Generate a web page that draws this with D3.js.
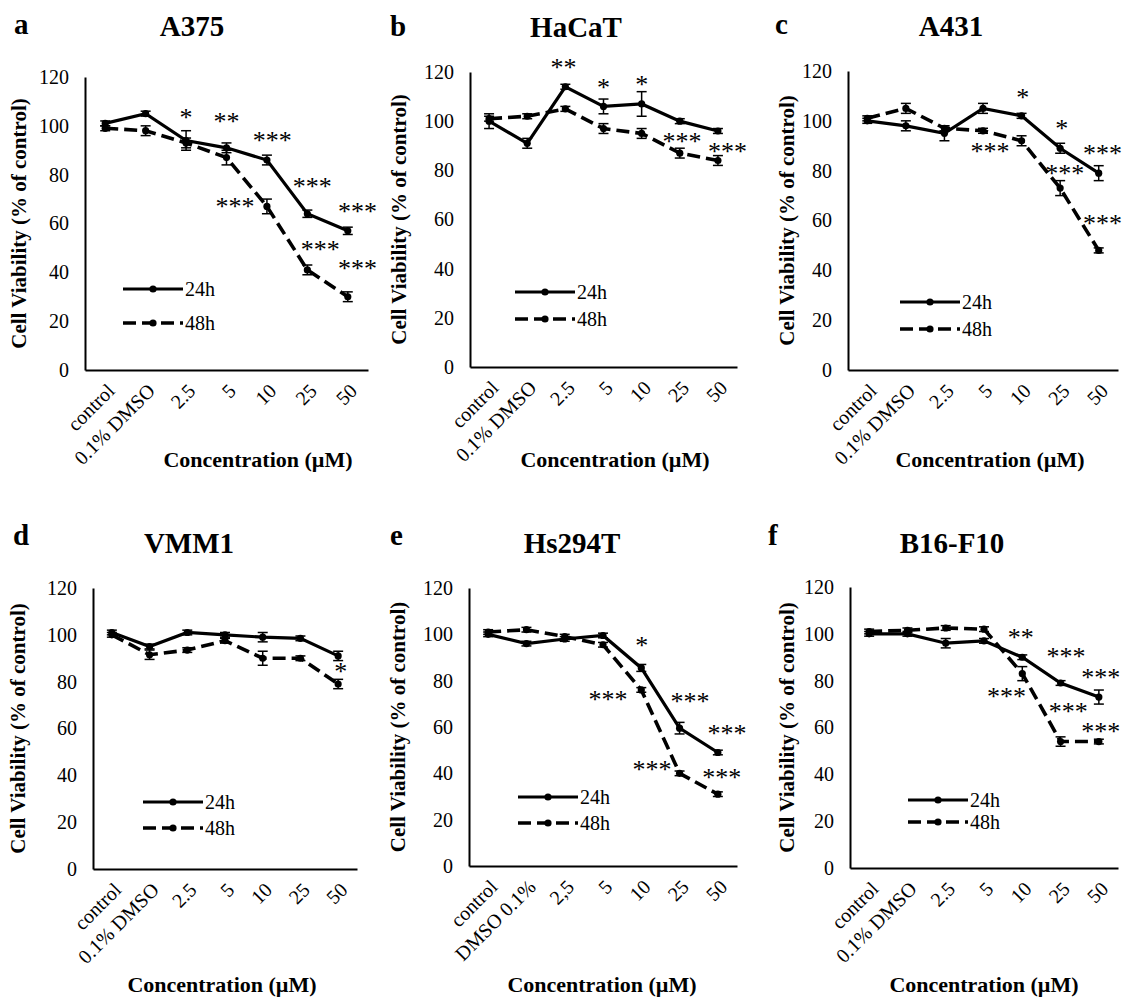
<!DOCTYPE html>
<html>
<head>
<meta charset="utf-8">
<script src="https://cdn.jsdelivr.net/npm/d3@7"></script>
<style>
body { margin: 0; background: #fff; }
text { font-family: "Liberation Serif", "Times New Roman", serif; fill: #000; }
</style>
</head>
<body>
<svg id="chart" width="1124" height="1001"></svg>
<script>
// x categories (panel e uses its own wording)
var categories = ["control", "0.1% DMSO", "2.5", "5", "10", "25", "50"];
var categoriesE = ["control", "DMSO 0.1%", "2,5", "5", "10", "25", "50"];
var yTicks = [0, 20, 40, 60, 80, 100, 120];

// A375
var a375_24h = [101, 105, 94, 91, 86, 64, 57];
var a375_48h = [99, 98, 93, 87, 67, 41, 30];
var a375_err24 = [1, 1, 4, 2, 2, 1.5, 1.5];
var a375_err48 = [1, 2, 2, 3, 3, 2, 2];
var a375_stars = [[2, 105, "*"], [3, 103.5, "**"], [4.13, 95.5, "***"], [5.12, 76.6, "***"],
                  [6.24, 66.4, "***"], [3.21, 68.4, "***"], [5.32, 50.8, "***"], [6.24, 43, "***"]];

// HaCaT
var hacat_24h = [100, 91, 114, 106, 107, 100, 96];
var hacat_48h = [101, 102, 105, 97, 95, 87, 84];
var hacat_err24 = [3, 2, 1, 3, 5, 1, 1];
var hacat_err48 = [1, 1, 1, 2, 2, 2, 2];
var hacat_stars = [[1.95, 123.6, "**"], [3, 115.4, "*"], [4, 116.7, "*"], [5.06, 93.5, "***"], [6.25, 89.4, "***"]];

// A431
var a431_24h = [100, 98, 95, 105, 102, 89, 79];
var a431_48h = [101, 105, 97, 96, 92, 73, 48];
var a431_err24 = [1, 2, 3, 2, 1, 2, 3];
var a431_err48 = [1, 2, 1, 1, 2, 3, 1];
var a431_stars = [[4.03, 111, "*"], [5.04, 98.4, "*"], [6.1, 88.4, "***"], [3.18, 89.2, "***"],
                  [5.12, 80.3, "***"], [6.1, 60.2, "***"]];

// VMM1
var vmm1_24h = [101, 95, 101, 100, 99, 98.5, 91];
var vmm1_48h = [100, 91.5, 93.5, 97.5, 90, 90, 79];
var vmm1_err24 = [1, 1, 1, 1, 2, 1, 2];
var vmm1_err48 = [1, 2, 1, 1, 3, 1, 2];
var vmm1_stars = [[6.07, 85.9, "*"]];

// Hs294T
var hs294t_24h = [100, 96, 98, 99.5, 85.5, 59.5, 49];
var hs294t_48h = [101, 102, 99, 95.5, 76, 40, 31];
var hs294t_err24 = [1, 1, 1, 1, 1.5, 2.5, 1];
var hs294t_err48 = [1, 1, 1, 1, 1, 1, 1];
var hs294t_stars = [[4.01, 96.7, "*"], [3.13, 73.7, "***"], [5.27, 72.8, "***"], [6.24, 59, "***"],
                    [4.28, 43.5, "***"], [6.1, 40, "***"]];

// B16-F10
var b16_24h = [100, 100, 96, 97, 90, 79, 73];
var b16_48h = [101, 101.5, 102.5, 102, 83, 54, 54];
var b16_err24 = [1, 1, 2, 1, 1, 1, 3];
var b16_err48 = [1, 1, 1, 1, 3, 2, 1];
var b16_stars = [[3.96, 100, "**"], [5.14, 92, "***"], [6.05, 83.2, "***"], [3.59, 74.9, "***"],
                 [5.2, 68.5, "***"], [6.05, 59.8, "***"]];

var panels = [
    {letter: "a", name: "A375", cats: categories, v24: a375_24h, v48: a375_48h, e24: a375_err24, e48: a375_err48, stars: a375_stars},
    {letter: "b", name: "HaCaT", cats: categories, v24: hacat_24h, v48: hacat_48h, e24: hacat_err24, e48: hacat_err48, stars: hacat_stars},
    {letter: "c", name: "A431", cats: categories, v24: a431_24h, v48: a431_48h, e24: a431_err24, e48: a431_err48, stars: a431_stars},
    {letter: "d", name: "VMM1", cats: categories, v24: vmm1_24h, v48: vmm1_48h, e24: vmm1_err24, e48: vmm1_err48, stars: vmm1_stars},
    {letter: "e", name: "Hs294T", cats: categoriesE, v24: hs294t_24h, v48: hs294t_48h, e24: hs294t_err24, e48: hs294t_err48, stars: hs294t_stars},
    {letter: "f", name: "B16-F10", cats: categories, v24: b16_24h, v48: b16_48h, e24: b16_err24, e48: b16_err48, stars: b16_stars}
];

// page placement of each panel
var layouts = [
    {l: 85,  t: 77,  r: 368,  b: 370, letter: [14, 34],   title: [192, 36], yt: 19,  xt: [258, 467], leg: [123, 289, 323]},
    {l: 470, t: 72,  r: 737,  b: 367, letter: [390, 36],  title: [576, 37], yt: 399, xt: [615, 467], leg: [515, 292, 319]},
    {l: 848, t: 71,  r: 1118, b: 370, letter: [775, 34],  title: [951, 36], yt: 787, xt: [990, 467], leg: [900, 302, 329]},
    {l: 93,  t: 588, r: 357,  b: 869, letter: [13, 545],  title: [189, 553], yt: 18, xt: [222, 992], leg: [143, 802, 828]},
    {l: 469, t: 588, r: 737,  b: 866, letter: [390, 545], title: [572, 553], yt: 398, xt: [602, 992], leg: [518, 797, 823]},
    {l: 850, t: 587, r: 1118, b: 868, letter: [768, 545], title: [952, 553], yt: 787, xt: [984, 992], leg: [908, 800, 822]}
];

var svg = d3.select("#chart");
var dash = "13,6";

function drawPanel(p, L) {
    let g = svg.append("g");
    let x = d3.scaleLinear().domain([-0.5, 6.5]).range([L.l, L.r]);
    let y = d3.scaleLinear().domain([0, 120]).range([L.b, L.t]);

    g.append("text").attr("x", L.letter[0]).attr("y", L.letter[1])
        .style("font-size", "29px").style("font-weight", "bold").text(p.letter);
    g.append("text").attr("x", L.title[0]).attr("y", L.title[1])
        .attr("text-anchor", "middle")
        .style("font-size", "29px").style("font-weight", "bold").text(p.name);

    // y axis
    let yAxis = g.append("g").attr("transform", "translate(" + L.l + ",0)")
        .call(d3.axisLeft(y).tickValues(yTicks).tickSize(0).tickPadding(16));
    yAxis.select(".domain").attr("stroke", "#000").attr("stroke-width", 2);
    yAxis.selectAll("text").style("font-size", "20px").style("font-family", "Liberation Serif");

    // x axis
    let xAxis = g.append("g").attr("transform", "translate(0," + L.b + ")")
        .call(d3.axisBottom(x).tickValues(d3.range(7)).tickSize(0)
            .tickFormat(function (i) { return p.cats[i]; }));
    xAxis.select(".domain").attr("stroke", "#000").attr("stroke-width", 2);
    xAxis.selectAll("text")
        .style("font-size", "20px").style("font-family", "Liberation Serif")
        .attr("text-anchor", "end")
        .attr("dx", 0).attr("dy", 0)
        .attr("transform", "translate(8,20) rotate(-45)");

    g.append("text")
        .attr("transform", "translate(" + L.yt + "," + ((L.t + L.b) / 2) + ") rotate(-90)")
        .attr("text-anchor", "middle").attr("dy", "0.35em")
        .style("font-size", "21px").style("font-weight", "bold")
        .text("Cell Viability (% of control)");
    g.append("text").attr("x", L.xt[0]).attr("y", L.xt[1])
        .attr("text-anchor", "middle")
        .style("font-size", "22px").style("font-weight", "bold")
        .text("Concentration (\u00b5M)");

    let series = [
        {vals: p.v24, err: p.e24, dashed: false},
        {vals: p.v48, err: p.e48, dashed: true}
    ];
    let line = d3.line().x(function (d, i) { return x(i); }).y(function (d) { return y(d); });

    series.forEach(function (s) {
        let eb = g.append("g").selectAll("g").data(s.vals).enter().append("g");
        eb.append("line")
            .attr("x1", function (d, i) { return x(i); })
            .attr("x2", function (d, i) { return x(i); })
            .attr("y1", function (d, i) { return y(d - s.err[i]); })
            .attr("y2", function (d, i) { return y(d + s.err[i]); })
            .attr("stroke", "#000").attr("stroke-width", 1.5);
        [-1, 1].forEach(function (sg) {
            eb.append("line")
                .attr("x1", function (d, i) { return x(i) - 5; })
                .attr("x2", function (d, i) { return x(i) + 5; })
                .attr("y1", function (d, i) { return y(d + sg * s.err[i]); })
                .attr("y2", function (d, i) { return y(d + sg * s.err[i]); })
                .attr("stroke", "#000").attr("stroke-width", 1.5);
        });
    });

    series.forEach(function (s) {
        g.append("path").datum(s.vals)
            .attr("d", line)
            .attr("fill", "none").attr("stroke", "#000")
            .attr("stroke-width", s.dashed ? 3.6 : 3.2)
            .attr("stroke-dasharray", s.dashed ? dash : null);
        g.selectAll(null).data(s.vals).enter().append("circle")
            .attr("cx", function (d, i) { return x(i); })
            .attr("cy", function (d) { return y(d); })
            .attr("r", 3.6).attr("fill", "#000");
    });

    // significance marks
    g.selectAll(null).data(p.stars).enter().append("text")
        .attr("x", function (d) { return x(d[0]); })
        .attr("y", function (d) { return y(d[1]); })
        .attr("text-anchor", "middle").attr("dy", "0.48em")
        .style("font-size", "26px")
        .text(function (d) { return d[2]; });

    // legend
    [["24h", L.leg[1], false], ["48h", L.leg[2], true]].forEach(function (it) {
        g.append("line")
            .attr("x1", L.leg[0]).attr("x2", L.leg[0] + 60)
            .attr("y1", it[1]).attr("y2", it[1])
            .attr("stroke", "#000").attr("stroke-width", it[2] ? 3.6 : 3.2)
            .attr("stroke-dasharray", it[2] ? dash : null);
        g.append("circle").attr("cx", L.leg[0] + 30).attr("cy", it[1]).attr("r", 3.6).attr("fill", "#000");
        g.append("text").attr("x", L.leg[0] + 62).attr("y", it[1]).attr("dy", "0.35em")
            .style("font-size", "20px").text(it[0]);
    });
}

panels.forEach(function (p, k) { drawPanel(p, layouts[k]); });
</script>
</body>
</html>
